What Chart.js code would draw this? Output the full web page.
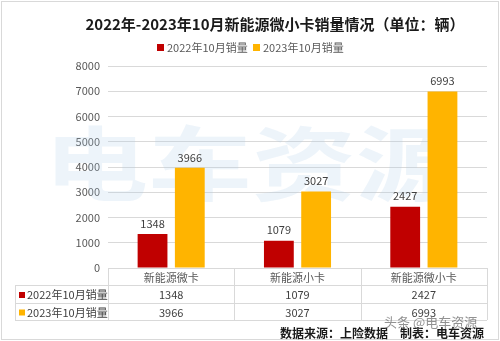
<!DOCTYPE html>
<html>
<head>
<meta charset="utf-8">
<title>新能源微小卡销量</title>
<script src="https://cdn.jsdelivr.net/npm/chart.js@4/dist/chart.umd.min.js"></script>
<style>
  html, body { margin: 0; padding: 0; background: #fff; }
  canvas { display: block; }
</style>
</head>
<body>
<canvas id="myChart" width="500" height="341"></canvas>
<script>
/* data */
const categories = ['新能源微卡', '新能源小卡', '新能源微小卡'];
const seriesNames = ['2022年10月销量', '2023年10月销量'];
const sales2022 = [1348, 1079, 2427];
const sales2023 = [3966, 3027, 6993];
const yMax = 8000;
const yStep = 1000;

const colors = ['#C00000', '#FFB400'];
const FONT = '"Noto Sans CJK SC", "Microsoft YaHei", sans-serif';

const app = {
  /* title, legend, watermark, value labels and the data table under the bars */
  decorations: {
    id: 'decorations',

    beforeDatasetsDraw: function (chart) {
      const ctx = chart.ctx;
      // faint logo behind the bars
      ctx.save();
      ctx.fillStyle = 'rgba(175, 205, 230, 0.22)';
      ctx.font = 'bold 104px ' + FONT;
      ctx.textAlign = 'center';
      ctx.textBaseline = 'middle';
      ctx.translate(252, 163);
      ctx.scale(1, 0.78);
      ctx.fillText('电车资源', 0, 0);
      ctx.restore();
    },

    afterDatasetsDraw: function (chart) {
      const ctx = chart.ctx;
      ctx.save();
      ctx.font = '11px ' + FONT;
      ctx.fillStyle = '#404040';
      ctx.textAlign = 'center';
      ctx.textBaseline = 'bottom';
      chart.data.datasets.forEach(function (ds, i) {
        chart.getDatasetMeta(i).data.forEach(function (bar, j) {
          ctx.fillText(String(ds.data[j]), bar.x, bar.y - 5);
        });
      });
      ctx.restore();
    },

    afterDraw: function (chart) {
      const ctx = chart.ctx;
      const area = chart.chartArea;
      const x = chart.scales.x;
      const w = x.width / categories.length;

      ctx.save();

      // outer frame
      ctx.strokeStyle = '#d9d9d9';
      ctx.lineWidth = 1;
      ctx.strokeRect(1.5, 1.5, 497, 338);

      // title
      ctx.fillStyle = '#1a1a1a';
      ctx.font = 'bold 15px ' + FONT;
      ctx.textAlign = 'center';
      ctx.textBaseline = 'middle';
      ctx.fillText('2022年-2023年10月新能源微小卡销量情况（单位：辆）', 275, 24);

      // legend
      ctx.font = '11px ' + FONT;
      ctx.textAlign = 'left';
      const legendX = [157, 253];
      seriesNames.forEach(function (name, i) {
        ctx.fillStyle = colors[i];
        ctx.fillRect(legendX[i], 44, 7, 7);
        ctx.fillStyle = '#595959';
        ctx.fillText(name, legendX[i] + 10, 47.5);
      });

      // data table
      const top = area.bottom;
      const rows = [top, top + 17, top + 35, top + 52];
      const left = 15;
      ctx.strokeStyle = '#d9d9d9';
      ctx.beginPath();
      ctx.moveTo(area.left, rows[0] + 0.5);
      ctx.lineTo(area.right, rows[0] + 0.5);
      for (let r = 1; r < rows.length; r++) {
        ctx.moveTo(left, rows[r] + 0.5);
        ctx.lineTo(area.right, rows[r] + 0.5);
      }
      ctx.moveTo(left + 0.5, rows[1]);
      ctx.lineTo(left + 0.5, rows[3]);
      for (let c = 0; c <= categories.length; c++) {
        const cx = Math.round(x.left + w * c) + 0.5;
        ctx.moveTo(cx, rows[0]);
        ctx.lineTo(cx, rows[3]);
      }
      ctx.stroke();

      ctx.textAlign = 'center';
      ctx.textBaseline = 'middle';
      categories.forEach(function (cat, j) {
        const cx = x.getPixelForValue(j);
        ctx.fillStyle = '#595959';
        ctx.fillText(cat, cx, (rows[0] + rows[1]) / 2 + 1);
        ctx.fillStyle = '#404040';
        chart.data.datasets.forEach(function (ds, i) {
          ctx.fillText(String(ds.data[j]), cx, (rows[i + 1] + rows[i + 2]) / 2 + 1);
        });
      });

      ctx.textAlign = 'left';
      seriesNames.forEach(function (name, i) {
        const cy = (rows[i + 1] + rows[i + 2]) / 2 + 1;
        ctx.fillStyle = colors[i];
        ctx.fillRect(19, cy - 3, 6, 6);
        ctx.fillStyle = '#404040';
        ctx.fillText(name, 27, cy);
      });

      // source line
      ctx.fillStyle = '#1a1a1a';
      ctx.font = 'bold 12px ' + FONT;
      ctx.fillText('数据来源：上险数据', 280, 333);
      ctx.fillText('制表：电车资源', 400, 333);

      // platform mark
      ctx.fillStyle = 'rgba(110, 110, 110, 0.75)';
      ctx.font = '13px ' + FONT;
      ctx.fillText('头条 @电车资源', 384, 322);

      ctx.restore();
    }
  },

  createChart: function () {
    const ctx = document.getElementById('myChart').getContext('2d');

    return new Chart(ctx, {
      type: 'bar',
      data: {
        labels: categories,
        datasets: [{
          label: seriesNames[0],
          backgroundColor: colors[0],
          data: sales2022,
        },
        {
          label: seriesNames[1],
          backgroundColor: colors[1],
          data: sales2023,
        }]
      },
      options: {
        responsive: false,
        animation: false,
        devicePixelRatio: 1,
        categoryPercentage: 0.59,
        barPercentage: 0.8,
        layout: {
          padding: { top: 66, right: 13, bottom: 73, left: 0 }
        },
        plugins: {
          legend: { display: false },
          title: { display: false },
          tooltip: { enabled: false }
        },
        scales: {
          x: {
            display: false
          },
          y: {
            min: 0,
            max: yMax,
            afterFit: function (scale) {
              scale.width = 108;
            },
            border: { display: false },
            grid: {
              color: '#d9d9d9',
              drawTicks: false
            },
            ticks: {
              stepSize: yStep,
              padding: 8,
              color: '#595959',
              font: { family: FONT, size: 11 },
              callback: function (value) {
                return String(value);
              }
            }
          }
        }
      },
      plugins: [app.decorations]
    });
  },

  init: function () {
    this.createChart();
  },
};

app.init();
</script>
</body>
</html>
